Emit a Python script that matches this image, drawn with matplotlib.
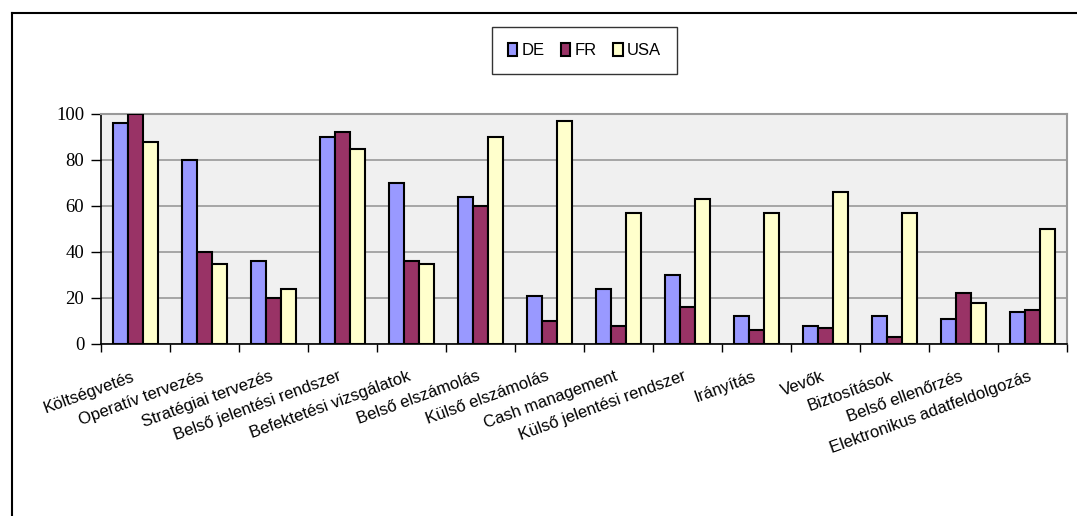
import numpy as np
import matplotlib.pyplot as plt
from matplotlib.lines import Line2D

# categories and series values
categories = ["Költségvetés", "Operatív tervezés", "Stratégiai tervezés",
              "Belső jelentési rendszer", "Befektetési vizsgálatok",
              "Belső elszámolás", "Külső elszámolás", "Cash management",
              "Külső jelentési rendszer", "Irányítás", "Vevők",
              "Biztosítások", "Belső ellenőrzés",
              "Elektronikus adatfeldolgozás"]
de  = [96, 80, 36, 90, 70, 64, 21, 24, 30, 12, 8, 12, 11, 14]
fr  = [100, 40, 20, 92, 36, 60, 10, 8, 16, 6, 7, 3, 22, 15]
usa = [88, 35, 24, 85, 35, 90, 97, 57, 63, 57, 66, 57, 18, 50]
series = [("DE", de, "#9999FF"), ("FR", fr, "#993366"), ("USA", usa, "#FFFFCC")]
yticks = [0, 20, 40, 60, 80, 100]

fig = plt.figure(figsize=(10.77, 5.16), dpi=100)
ax = fig.add_axes([101 / 1077, 1 - 344 / 516, (1067 - 101) / 1077, (344 - 114) / 516])
ax.set_facecolor("#F0F0F0")

x = np.arange(len(categories))
w = 0.215
for i, (name, vals, col) in enumerate(series):
    ax.bar(x + (i - 1) * w, vals, w, color=col, edgecolor="black",
           linewidth=1.5, label=name, zorder=3)

ax.set_xlim(-0.5, len(categories) - 0.5)
ax.set_ylim(0, 100)
ax.set_yticks(yticks)
ax.set_yticklabels([str(v) for v in yticks], family="Liberation Serif", fontsize=13.5)
ax.yaxis.grid(True, color="#999999", linewidth=1.2, zorder=0)
ax.set_axisbelow(True)

# ticks at group boundaries, labels at group centres
ax.set_xticks(np.arange(len(categories) + 1) - 0.5)
ax.set_xticklabels([])
ax.tick_params(axis="x", which="major", length=6, width=1, direction="out")
ax.tick_params(axis="y", length=7, width=1, direction="out", pad=5)
ax.set_xticks(x, minor=True)
ax.set_xticklabels(categories, minor=True, rotation=20, ha="right", va="baseline",
                   rotation_mode="anchor", family="Liberation Sans", fontsize=12)
ax.tick_params(axis="x", which="minor", length=0, pad=26)

for s in ["left", "bottom"]:
    ax.spines[s].set_color("black")
    ax.spines[s].set_linewidth(1.2)
for s in ["top", "right"]:
    ax.spines[s].set_color("#999999")
    ax.spines[s].set_linewidth(1.5)

leg = fig.legend(loc="center", bbox_to_anchor=(584.5 / 1077, 1 - 50.5 / 516),
                 ncol=3, frameon=True, fancybox=False, edgecolor="black",
                 handlelength=0.55, handleheight=0.85, handletextpad=0.25,
                 columnspacing=1.0, borderpad=0.95,
                 prop={"family": "Liberation Sans", "size": 12})
leg.get_frame().set_linewidth(1.0)

# outer frame lines (top and left)
fig.add_artist(Line2D([12 / 1077, 1], [1 - 13 / 516] * 2, color="black", lw=1.5))
fig.add_artist(Line2D([12 / 1077] * 2, [0, 1 - 13 / 516], color="black", lw=1.5))

fig.savefig("out.png", dpi=100)
